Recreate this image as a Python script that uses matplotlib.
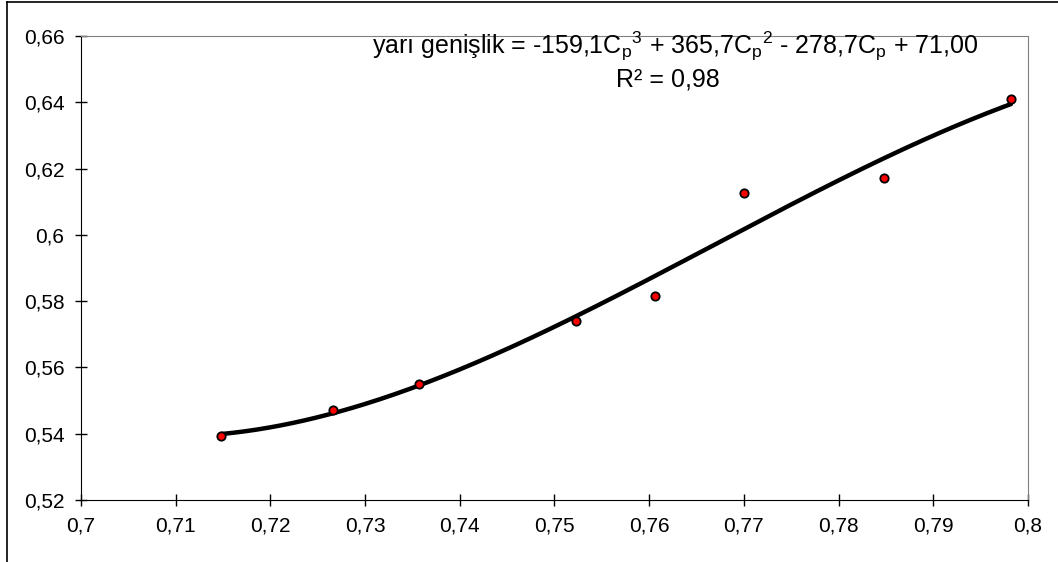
import numpy as np
import matplotlib
matplotlib.use("Agg")
import matplotlib.pyplot as plt
from matplotlib.ticker import FuncFormatter, MultipleLocator
from matplotlib.lines import Line2D

plt.rcParams['font.family'] = ['Liberation Sans', 'DejaVu Sans']
plt.rcParams['mathtext.fontset'] = 'custom'
plt.rcParams['mathtext.rm'] = 'Liberation Sans'
plt.rcParams['mathtext.it'] = 'Liberation Sans'

cp = [0.7148, 0.7266, 0.7357, 0.7523, 0.7606, 0.7700, 0.7848, 0.7982]
yari_genislik = [0.5394, 0.5473, 0.5550, 0.5740, 0.5816, 0.6125, 0.6173, 0.6409]

eq_line1 = ("yarı genişlik = -159,1C$_\\mathrm{p}$$^\\mathrm{3}$ + 365,7C$_\\mathrm{p}$$^\\mathrm{2}$"
            " - 278,7C$_\\mathrm{p}$ + 71,00")
eq_line2 = "R² = 0,98"

fig = plt.figure(figsize=(10.58, 5.62), dpi=100)
ax = fig.add_axes([81/1058, 62/562, 947/1058, 464/562])

# 3rd order trend line like excel
coef = np.polyfit(cp, yari_genislik, 3)
xs = np.linspace(min(cp), max(cp), 200)
ax.plot(xs, np.polyval(coef, xs), color='black', lw=3.2, solid_capstyle='round', zorder=2)
ax.plot(cp, yari_genislik, 'o', ms=6, mfc='red', mec='black', mew=1.3, zorder=3)

ax.set_xlim(0.7, 0.8)
ax.set_ylim(0.52, 0.66)
ax.xaxis.set_major_locator(MultipleLocator(0.01))
ax.yaxis.set_major_locator(MultipleLocator(0.02))
fmt = FuncFormatter(lambda v, p: ('%g' % round(v, 3)).replace('.', ','))
ax.xaxis.set_major_formatter(fmt)
ax.yaxis.set_major_formatter(fmt)
ax.tick_params(direction='inout', length=8, width=1, labelsize=15, colors='black')
ax.tick_params(axis='x', pad=8)
ax.tick_params(axis='y', pad=8)

for s in ['left', 'bottom']:
    ax.spines[s].set_color('black')
for s in ['top', 'right']:
    ax.spines[s].set_color('#808080')

fig.text(675/1058, 1 - 54/562, eq_line1, ha='center', va='baseline', fontsize=18)
fig.text(668/1058, 1 - 86/562, eq_line2, ha='center', va='baseline', fontsize=18)

# outer chart frame
fig.add_artist(Line2D([7/1058, 7/1058], [0, 1 - 2/562], color='black', lw=1.2))
fig.add_artist(Line2D([7/1058, 1], [1 - 2/562, 1 - 2/562], color='black', lw=1.2))

fig.savefig('out.png', dpi=100)
